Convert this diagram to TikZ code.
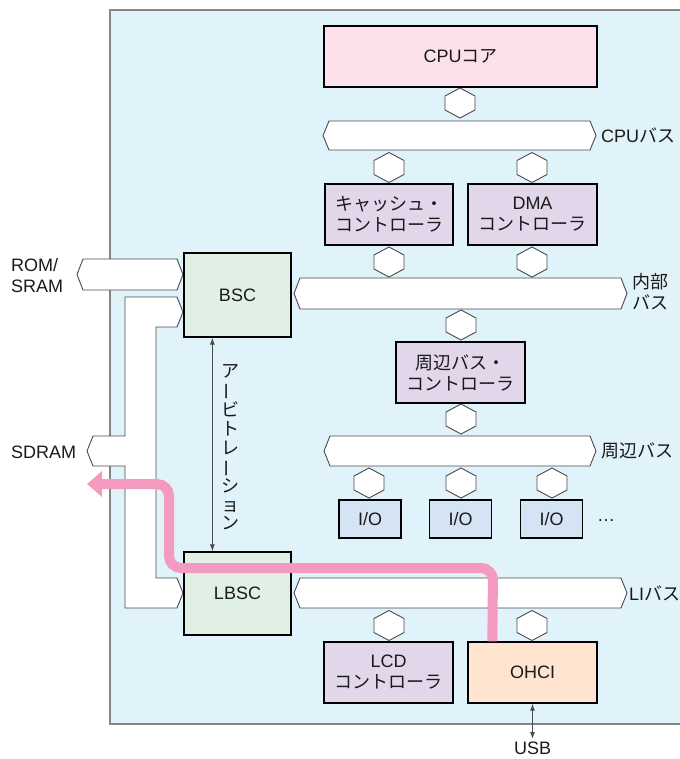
\documentclass[tikz,border=0pt]{standalone}
\usepackage{fontspec}
\setmainfont{Liberation Sans}
\newfontfamily\jpf{Noto Sans CJK JP}
\usepackage{graphicx}
\usetikzlibrary{arrows.meta,calc}
\definecolor{bgblue}{HTML}{E0F2FA}
\definecolor{bordergray}{HTML}{858585}
\definecolor{linegray}{HTML}{4A4A4A}
\definecolor{cpupink}{HTML}{FCE0EC}
\definecolor{lav}{HTML}{E2D6EA}
\definecolor{bscgreen}{HTML}{E0F0E4}
\definecolor{ioblue}{HTML}{D4E4F4}
\definecolor{peach}{HTML}{FFE4D0}
\definecolor{pathpink}{HTML}{F49AC0}
\definecolor{txt}{HTML}{1A1A1A}
\newcommand{\drawbus}[5]{%
  \draw[busline] ({#2},{(#4+#5)/2}) -- ({#2+6},#4) -- ({#3-6},#4) -- ({#3},{(#4+#5)/2}) -- ({#3-6},#5) -- ({#2+6},#5) -- cycle;
  \coordinate (#1) at ({(#2+#3)/2},{(#4+#5)/2});}
\newcommand{\vbar}{\rotatebox[origin=c]{90}{ー}}
\begin{document}
\begin{tikzpicture}[x=1pt,y=-1pt,
  font=\fontsize{18}{21}\selectfont, text=txt,
  box/.style={draw=black, line width=1.3pt, inner sep=0pt, align=center},
  busline/.style={draw=linegray, line width=0.9pt, fill=white, line join=miter},
  hexline/.style={draw=linegray, line width=0.9pt, fill=white},
  hexa/.pic={\draw[hexline] (0,-15) -- (15,-7) -- (15,7) -- (0,15) -- (-15,7) -- (-15,-7) -- cycle;},
  lbl/.style={inner sep=0pt, align=left},
  dbl/.style={draw=linegray, line width=1pt, {Latex[length=7pt,width=5pt]}-{Latex[length=7pt,width=5pt]}},
  pinkpath/.style={draw=pathpink, line width=10pt, rounded corners=12pt, -{Triangle[length=15pt,width=25pt]}}
]
\useasboundingbox (0,0) rectangle (679,759);
% background chip area
\fill[bgblue] (110,10) rectangle (700,724);
\draw[bordergray, line width=1.2pt] (700,10) -- (110,10) -- (110,724) -- (700,724);

% external buses on the left
\draw[busline] (77,274.5) -- (83,259) -- (177,259) -- (183,274.5) -- (177,290) -- (83,290) -- cycle;
\draw[busline] (125,297) -- (177,297) -- (183,312) -- (177,327) -- (156,327) -- (156,578) -- (177,578) -- (183,593) -- (177,608) -- (125,608) -- (125,466) -- (93,466) -- (87,451) -- (93,436) -- (125,436) -- cycle;

% internal buses
\drawbus{cpubus}{323}{596}{121}{150}
\drawbus{inbus}{294}{627}{278}{309}
\drawbus{pbus}{324}{596}{436}{466}
\drawbus{libus}{294}{627}{578}{608}

% hexagon connectors
\pic at (460,103) {hexa};
\pic at (389,167.5) {hexa};
\pic at (532,167.5) {hexa};
\pic at (389,262) {hexa};
\pic at (532,262) {hexa};
\pic at (461,325) {hexa};
\pic at (461,419) {hexa};
\pic at (369,483) {hexa};
\pic at (461,483) {hexa};
\pic at (552,483) {hexa};
\pic at (389,625.5) {hexa};
\pic at (532,625.5) {hexa};

% blocks
\node[box, fill=cpupink, minimum width=273pt, minimum height=61pt] (cpu) at (460.5,56.5) {CPU{\jpf コア}};
\node[box, fill=lav, minimum width=128pt, minimum height=61pt] (cache) at (389,214.5) {\jpf キャッシュ・\\\jpf コントローラ};
\node[box, fill=lav, minimum width=129pt, minimum height=61pt] (dma) at (532.5,214.5) {DMA\\{\jpf コントローラ}};
\node[box, fill=bscgreen, minimum width=107pt, minimum height=84pt] (bsc) at (237.5,295) {BSC};
\node[box, fill=lav, minimum width=129pt, minimum height=61pt] (pbc) at (460.5,372.5) {\jpf 周辺バス・\\\jpf コントローラ};
\node[box, fill=ioblue, minimum width=62pt, minimum height=38pt] (io1) at (370,519) {I/O};
\node[box, fill=ioblue, minimum width=62pt, minimum height=38pt] (io2) at (460.5,519) {I/O};
\node[box, fill=ioblue, minimum width=62pt, minimum height=38pt] (io3) at (551.5,519) {I/O};
\node[lbl, anchor=west] (dots) at (597,521) {…};
\node[box, fill=bscgreen, minimum width=107pt, minimum height=83pt] (lbsc) at (237.5,593.5) {LBSC};
\node[box, fill=lav, minimum width=129pt, minimum height=61pt] (lcd) at (388.5,672.5) {LCD\\{\jpf コントローラ}};
\node[box, fill=peach, minimum width=129pt, minimum height=61pt] (ohci) at (532.5,672.5) {OHCI};

% labels
\node[lbl, anchor=west] (cpubuslbl) at (601,135) {CPU{\jpf バス}};
\node[lbl, anchor=west] (inbuslbl) at (632,292) {\jpf 内部\\\jpf バス};
\node[lbl, anchor=west] (pbuslbl) at (601,451) {\jpf 周辺バス};
\node[lbl, anchor=west] (libuslbl) at (629,593) {LI{\jpf バス}};
\node[lbl, anchor=west] (romlbl) at (11,276) {ROM/\\SRAM};
\node[lbl, anchor=west] (sdramlbl) at (11,452) {SDRAM};
\node[lbl, anchor=north, font=\fontsize{18}{18.6}\selectfont\jpf, align=center] (arblbl) at (230,364)
  {ア\\\vbar\\ビ\\ト\\レ\\\vbar\\シ\\ョ\\ン};

% arbitration arrow
\draw[dbl] ($(bsc.south west)+(29,0)$) -- ($(lbsc.north west)+(29,0)$);
% USB
\coordinate (usbend) at (532.5,739);
\draw[dbl] (ohci.south) -- (usbend);
\node[lbl, anchor=north] (usblbl) at (532.5,742) {USB};

% pink data path
\coordinate (sdramtip) at (87,484);
\draw[pinkpath] ($(ohci.north west)+(25,0)$) -- (493,568) -- (169,568) -- (169,484) -- (sdramtip);
\end{tikzpicture}
\end{document}
